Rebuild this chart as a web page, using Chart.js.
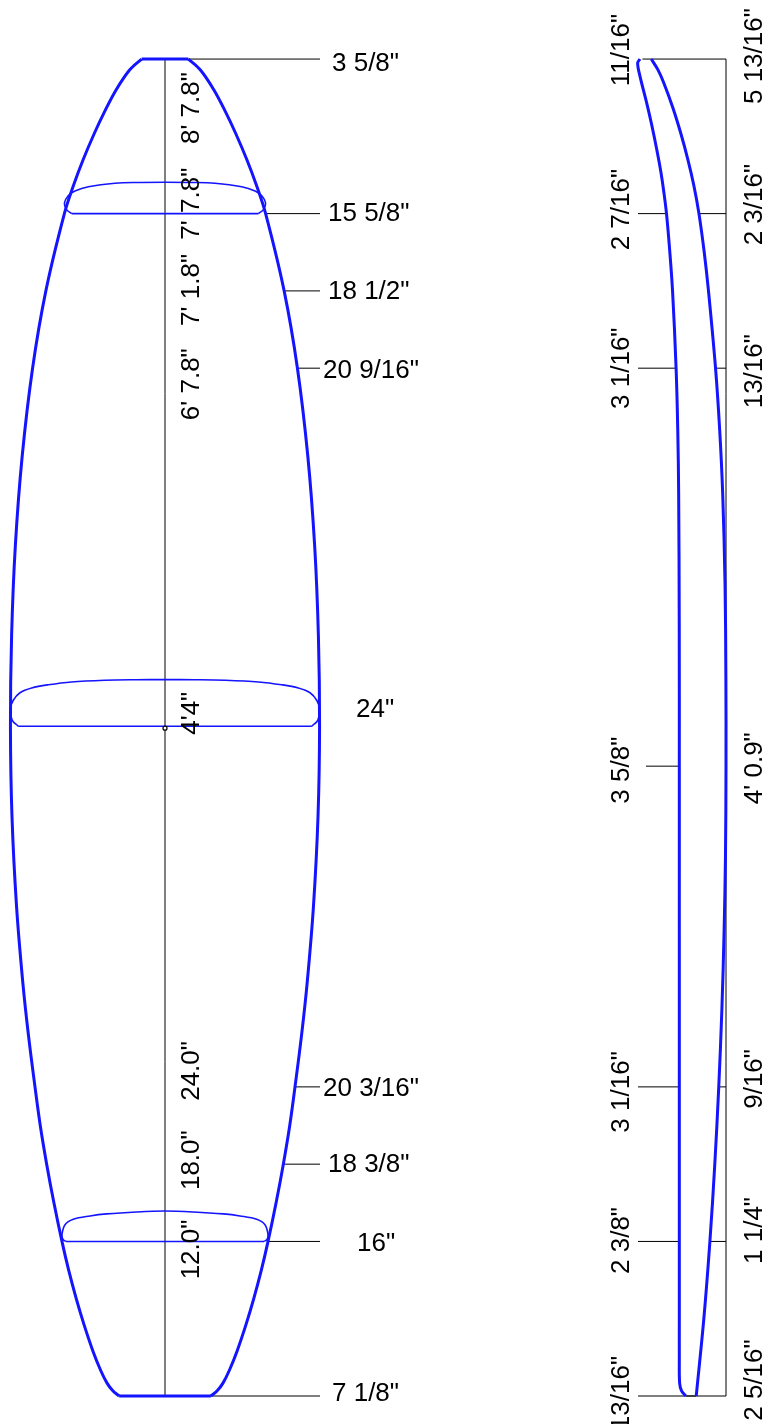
<!DOCTYPE html>
<html>
<head>
<meta charset="utf-8">
<title>Board outline</title>
<script src="https://cdn.jsdelivr.net/npm/chart.js@4"></script>
<style>
    html, body { margin: 0; padding: 0; background: #fff; overflow: hidden; }
    canvas { display: block; }
</style>
</head>
<body>
<canvas id="board" width="763" height="1424"></canvas>
<script>
// All values in inches. Station = distance from the tail.
const boardLength = 103.8;

// Plan outline, full width at each station
const outlineStations = [0, 0.4, 1, 2, 3.5, 5.5, 7.5, 9.75, 12, 15, 18, 21, 24, 28, 32, 38, 45, 52, 59, 66, 73, 79.8, 85.8, 91.8, 94, 96, 98, 99.7, 101.4, 102.95, 103.8];
const outlineWidths = [7.125, 8.1, 9, 10, 11.2, 12.55, 13.75, 14.95, 16, 17.25, 18.375, 19.37, 20.1875, 21.2, 22.06, 23.05, 23.76, 24, 23.82, 23.24, 22.17, 20.5625, 18.5, 15.625, 14.2, 12.7, 11, 9.4, 7.6, 5.5, 3.625];

// Foil slices: half width and height above the station, corner to crown
const noseSliceStation = 91.8;
const noseSliceHalf = [7.24, 7.63, 7.81, 7.5, 6.99, 5.95, 3.88, 1.9, 0];
const noseSliceHeight = [0, 0.29, 0.81, 1.4, 1.76, 2.09, 2.36, 2.42, 2.44];
const midSliceStation = 52;
const midSliceHalf = [11.4, 11.87, 12, 11.79, 11.26, 10.35, 9.06, 7.26, 4.66, 2.3, 0];
const midSliceHeight = [0, 0.48, 1.36, 2, 2.6, 2.97, 3.22, 3.44, 3.57, 3.61, 3.62];
const tailSliceStation = 12;
const tailSliceHalf = [7.69, 7.92, 8, 7.76, 7.12, 5.82, 4.53, 2.2, 0];
const tailSliceHeight = [0, 0.15, 0.53, 1.3, 1.72, 1.98, 2.14, 2.29, 2.36];

// Side profile, distance from the straight datum line
const bottomStations = [0, 6, 12, 18, 24, 30, 36, 42, 48.9, 56, 63, 70, 75, 79.8, 85.8, 88.8, 91.8, 94, 96, 98, 100, 102, 103, 103.8];
const bottomRocker = [2.3125, 1.72, 1.25, 0.87, 0.5625, 0.32, 0.15, 0.04, 0, 0.01, 0.075, 0.255, 0.49, 0.8125, 1.36, 1.69, 2.1, 2.5, 2.96, 3.5, 4.12, 4.85, 5.3, 5.8];
const deckStations = [0, 0.4, 1, 3, 6, 12, 24, 36, 48.9, 60, 70, 75, 79.8, 85.8, 88.8, 91.8, 93.5, 95, 96.8, 98.7, 100.4, 102.47, 103.5, 103.8];
const deckOffset = [3.125, 3.45, 3.6, 3.625, 3.625, 3.625, 3.625, 3.625, 3.625, 3.63, 3.675, 3.745, 3.875, 4.15, 4.36, 4.62, 4.83, 5.05, 5.38, 5.77, 6.16, 6.68, 6.86, 6.68];

// Dimension labels
const widthStations = [103.8, 91.8, 85.8, 79.8, 52, 24, 18, 12, 0];
const widthLabels = ['3 5/8"', '15 5/8"', '18 1/2"', '20 9/16"', '24"', '20 3/16"', '18 3/8"', '16"', '7 1/8"'];
const widthValues = [3.625, 15.625, 18.5, 20.5625, 24, 20.1875, 18.375, 16, 7.125];
const lengthStations = [103.8, 91.8, 85.8, 79.8, 52, 24, 18, 12];
const lengthLabels = ['8\' 7.8"', '7\' 7.8"', '7\' 1.8"', '6\' 7.8"', '4\'4"', '24.0"', '18.0"', '12.0"'];
const sideStations = [103.8, 91.8, 79.8, 48.9, 24, 12, 0];
const thicknessLabels = ['11/16"', '2 7/16"', '3 1/16"', '3 5/8"', '3 1/16"', '2 3/8"', '13/16"'];
const thicknessValues = [0.6875, 2.4375, 3.0625, 3.625, 3.0625, 2.375, 0.8125];
const rockerLabels = ['5 13/16"', '2 3/16"', '13/16"', '4\' 0.9"', '9/16"', '1 1/4"', '2 5/16"'];
const rockerValues = [5.8, 2.1, 0.8125, 0, 0.5625, 1.25, 2.3125];

// Drawing scale of the sheet
const pxPerInch = 12.88;
const planCentre = 165, sideDatum = 726, tailLine = 1396;
const sheetW = 763, sheetH = 1424;

const BLUE = '#1414ff';
const TEXT_FONT = '26px "Liberation Sans", Arial, sans-serif';

function line(xs, ys, color, width, xAxisID) {
    return {
        data: xs.map((x, i) => ({ x: x, y: ys[i] })),
        borderColor: color,
        borderWidth: width,
        xAxisID: xAxisID || 'x',
        showLine: true,
        pointRadius: 0,
        tension: 0,
        fill: false
    };
}

function curve(xs, ys, color, width, xAxisID) {
    return Object.assign(line(xs, ys, color, width, xAxisID), { tension: 0.35 });
}

const datasets = [];

// corner over the crown to the other corner, then the flat bottom
function addSlice(station, halves, heights) {
    const xs = halves.concat(halves.slice(0, -1).reverse().map(h => -h));
    const ys = heights.concat(heights.slice(0, -1).reverse()).map(h => station + h);
    datasets.push(curve(xs, ys, BLUE, 1.6));
    datasets.push(line([-halves[0], halves[0]], [station, station], BLUE, 1.6));
}

// rails, nose and tail
datasets.push(curve(outlineWidths.map(w => w / 2), outlineStations, BLUE, 3));
datasets.push(curve(outlineWidths.map(w => -w / 2), outlineStations, BLUE, 3));
datasets.push(line([-outlineWidths[0] / 2, outlineWidths[0] / 2], [0, 0], BLUE, 3));
const noseW = outlineWidths[outlineWidths.length - 1];
datasets.push(line([-noseW / 2, noseW / 2], [boardLength, boardLength], BLUE, 3));

addSlice(noseSliceStation, noseSliceHalf, noseSliceHeight);
addSlice(midSliceStation, midSliceHalf, midSliceHeight);
addSlice(tailSliceStation, tailSliceHalf, tailSliceHeight);

// side profile
datasets.push(curve(bottomRocker, bottomStations, BLUE, 3, 'xSide'));
datasets.push(curve(deckOffset, deckStations, BLUE, 3, 'xSide'));
datasets.push(line([deckOffset[0], bottomRocker[0]], [0, 0], '#000', 1.5, 'xSide'));

// stringer and the small mark at the widest point
datasets.push(line([0, 0], [0, boardLength], '#000', 1));
datasets.push({
    data: [{ x: 0, y: midSliceStation - 0.15 }],
    xAxisID: 'x',
    showLine: false,
    order: -1,
    pointRadius: 2,
    pointBorderColor: '#000',
    pointBackgroundColor: '#fff',
    pointBorderWidth: 1.2
});

// leaders on the plan
const planLeaderEnd = (320 - planCentre) / pxPerInch;
widthStations.forEach((st, i) => {
    if (widthLabels[i] === '24"') return;
    datasets.push(line([widthValues[i] / 2, planLeaderEnd], [st, st], '#000', 1));
});

// leaders on the side profile
const sideLeaderEnd = (sideDatum - 638) / pxPerInch;
const shortLeaderEnd = (sideDatum - 646) / pxPerInch;
sideStations.forEach((st, i) => {
    const deck = rockerValues[i] + thicknessValues[i];
    const end = thicknessLabels[i] === '3 5/8"' ? shortLeaderEnd : sideLeaderEnd;
    if (i === 0) {
        datasets.push(line([0, deck], [st, st], '#000', 1, 'xSide'));
        return;
    }
    datasets.push(line([deck, end], [st, st], '#000', 1, 'xSide'));
    if (rockerValues[i] > 0) datasets.push(line([0, rockerValues[i]], [st, st], '#000', 1, 'xSide'));
});
// datum
datasets.push(line([0, 0], [0, boardLength], '#000', 1, 'xSide'));

// Label nudges in pixels, the text does not sit exactly on its station
const widthGap = [12, 8, 8, 3, 36, 3, 8, 37, 12];
const widthDrop = [5, 0, 1, 3, -16, 2, 1, 2, -2];
const lengthDrop = [49, -10, -1, 16, -13, -16, -4, 8];
const thicknessDrop = [-9, -4, 0, 4, 5, -1, -3];
const rockerDrop = [-3, -9, 3, 2, -8, -11, -16];

const labelPlugin = {
    id: 'dimensionLabels',
    afterDatasetsDraw(chart) {
        const ctx = chart.ctx;
        const { x: xScale, xSide, y: yScale } = chart.scales;
        ctx.save();
        ctx.font = TEXT_FONT;
        ctx.fillStyle = '#000';

        ctx.textAlign = 'left';
        ctx.textBaseline = 'middle';
        widthLabels.forEach((text, i) => {
            const px = xScale.getPixelForValue(planLeaderEnd) + widthGap[i];
            ctx.fillText(text, px, yScale.getPixelForValue(widthStations[i]) + widthDrop[i]);
        });

        const rotated = (text, px, py) => {
            ctx.save();
            ctx.translate(px, py);
            ctx.rotate(-Math.PI / 2);
            ctx.textAlign = 'center';
            ctx.textBaseline = 'alphabetic';
            ctx.fillText(text, 0, 0);
            ctx.restore();
        };
        lengthLabels.forEach((text, i) => {
            rotated(text, xScale.getPixelForValue(2.64), yScale.getPixelForValue(lengthStations[i]) + lengthDrop[i]);
        });
        thicknessLabels.forEach((text, i) => {
            rotated(text, xSide.getPixelForValue(7.55), yScale.getPixelForValue(sideStations[i]) + thicknessDrop[i]);
        });
        rockerLabels.forEach((text, i) => {
            rotated(text, xSide.getPixelForValue(-2.8), yScale.getPixelForValue(sideStations[i]) + rockerDrop[i]);
        });
        ctx.restore();
    }
};

new Chart(document.getElementById('board'), {
    type: 'scatter',
    data: { datasets: datasets },
    options: {
        responsive: false,
        animation: false,
        events: [],
        layout: { padding: 0, autoPadding: false },
        plugins: { legend: { display: false }, tooltip: { enabled: false }, title: { display: false } },
        scales: {
            x: {
                type: 'linear', axis: 'x', display: false,
                min: -planCentre / pxPerInch,
                max: (sheetW - planCentre) / pxPerInch
            },
            xSide: {
                type: 'linear', axis: 'x', display: false, reverse: true,
                min: (sideDatum - sheetW) / pxPerInch,
                max: sideDatum / pxPerInch
            },
            y: {
                type: 'linear', display: false,
                min: (tailLine - sheetH) / pxPerInch,
                max: tailLine / pxPerInch
            }
        }
    },
    plugins: [labelPlugin]
});
</script>
</body>
</html>
